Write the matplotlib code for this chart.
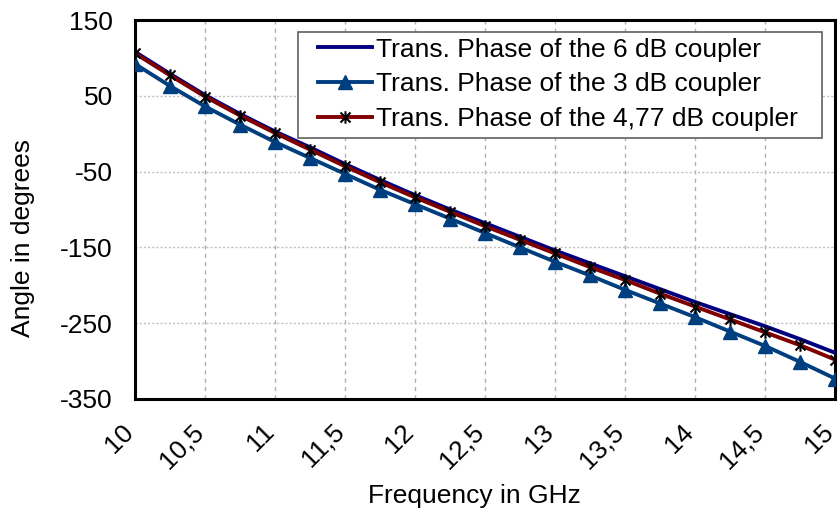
import matplotlib
matplotlib.use("Agg")
import matplotlib.pyplot as plt
import matplotlib.transforms as mtransforms
from matplotlib.path import Path
from matplotlib.patches import Rectangle

plt.rcParams['font.family'] = ['Liberation Sans', 'DejaVu Sans']
plt.rcParams['axes.unicode_minus'] = False

freq = [10.0, 10.25, 10.5, 10.75, 11.0, 11.25, 11.5, 11.75, 12.0, 12.25, 12.5,
        12.75, 13.0, 13.25, 13.5, 13.75, 14.0, 14.25, 14.5, 14.75, 15.0]
phase_6db = [108, 79, 51, 26, 3, -18, -40, -61, -81, -100, -118,
             -136, -154, -171, -188, -205, -222, -238, -254, -271, -289]
phase_3db = [92, 63, 36, 12, -11, -32, -53, -74, -93, -112, -131,
             -150, -169, -187, -206, -224, -242, -261, -280, -301, -323]
phase_477db = [106, 77, 49, 24, 1, -21, -43, -64, -84, -103, -122,
               -140, -158, -176, -193, -211, -228, -245, -262, -279, -298]

labels = ["Trans. Phase of the 6 dB coupler",
          "Trans. Phase of the 3 dB coupler",
          "Trans. Phase of the 4,77 dB coupler"]
xticks = [10, 10.5, 11, 11.5, 12, 12.5, 13, 13.5, 14, 14.5, 15]
xticklabels = ["10", "10,5", "11", "11,5", "12", "12,5", "13", "13,5", "14", "14,5", "15"]
yticks = [150, 50, -50, -150, -250, -350]

FS = 19
W, H = 840, 522

star = Path([(-1, -1), (1, 1), (-1, 1), (1, -1), (0, -1.25), (0, 1.25)],
            [Path.MOVETO, Path.LINETO, Path.MOVETO, Path.LINETO, Path.MOVETO, Path.LINETO])

fig = plt.figure(figsize=(W/100, H/100), dpi=100)
ax = fig.add_axes([135/W, 1-399/H, 700/W, 379/H])

ax.plot(freq, phase_6db, color='#000080', lw=2.8, label=labels[0], zorder=3)
ax.plot(freq, phase_3db, color='#003f7f', lw=2.8, marker='^', ms=10,
        mfc='#003f7f', mec='#003f7f', label=labels[1], zorder=3)
ax.plot(freq, phase_477db, color='#800000', lw=2.8, marker=star, ms=9,
        mec='black', mew=1.5, label=labels[2], zorder=4)

ax.set_xlim(10, 15)
ax.set_ylim(-350, 150)
ax.set_xticks(xticks)
ax.set_xticklabels(xticklabels, rotation=45, ha='right', va='center', rotation_mode='anchor')
ax.set_yticks(yticks)
ax.tick_params(length=0, labelsize=FS, colors='black')
ax.tick_params(axis='x', pad=21)
ax.tick_params(axis='y', pad=16)
shift = mtransforms.ScaledTranslation(-5/100, 0, fig.dpi_scale_trans)
for lbl in ax.get_xticklabels():
    lbl.set_transform(lbl.get_transform() + shift)

for x in xticks[1:-1]:
    ax.axvline(x, color='#b0b0b0', lw=1, ls=(0, (3, 3)), zorder=1)
for y in yticks[1:-1]:
    ax.axhline(y, color='#c0c0c0', lw=1, ls=(0, (1.5, 1.5)), zorder=1)

for s in ax.spines.values():
    s.set_color('black')
    s.set_linewidth(2.2)

ax.set_xlabel("Frequency in GHz", fontsize=FS)
ax.xaxis.set_label_coords((474-135)/700, (399-484)/379)
ax.set_ylabel("Angle in degrees", fontsize=FS)
ax.yaxis.set_label_coords((35-135)/700, (399-238)/379)

# legend frame drawn as a box, legend entries placed inside
ax.add_patch(Rectangle((298/W, 1-138/H), (822-298)/W, (138-32)/H,
                       transform=fig.transFigure, facecolor='white',
                       edgecolor='#606060', lw=1.2, zorder=5, clip_on=False))
leg = ax.legend(loc='center left', bbox_to_anchor=(318/W, 1-84.5/H),
                bbox_transform=fig.transFigure, fontsize=FS, frameon=False,
                handlelength=2.05, handletextpad=0.15, labelspacing=0.41,
                borderpad=0, borderaxespad=0)
leg.set_zorder(6)

fig.savefig("out.png", dpi=100, facecolor='white')
